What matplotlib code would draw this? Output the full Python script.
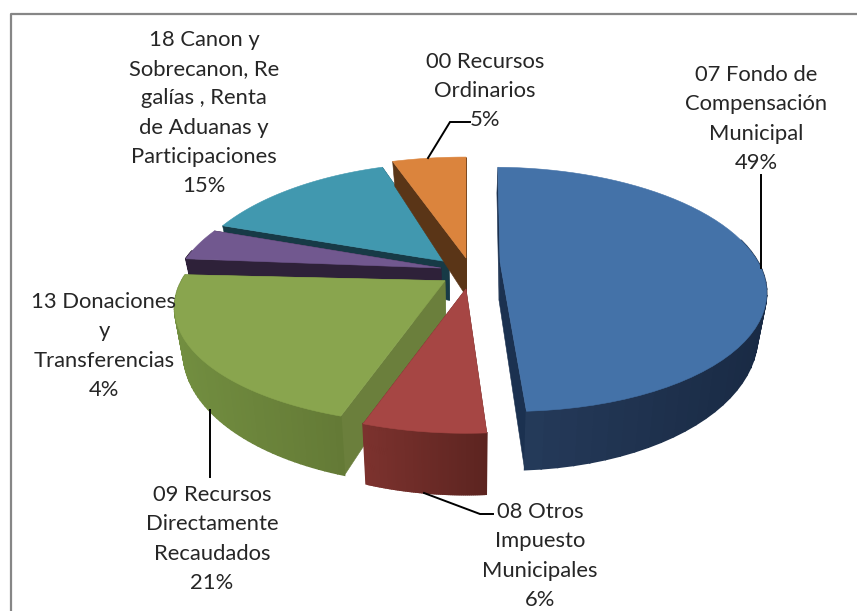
import numpy as np
import matplotlib
matplotlib.use("Agg")
import matplotlib.pyplot as plt
from matplotlib.patches import Polygon

# ---------- data ----------
categories = ["07 Fondo de\nCompensación\nMunicipal",
              "08 Otros\nImpuesto\nMunicipales",
              "09 Recursos\nDirectamente\nRecaudados",
              "13 Donaciones\ny\nTransferencias",
              "18 Canon y\nSobrecanon, Re\ngalías , Renta\nde Aduanas y\nParticipaciones",
              "00 Recursos\nOrdinarios"]
values = [48.9, 6.2, 21.0, 4.2, 14.5, 5.2]
percent_labels = ["49%", "6%", "21%", "4%", "15%", "5%"]

# ---------- style ----------
top_colors = ["#4472A8", "#A64644", "#89A54E", "#71588F", "#4198AF", "#DB843D"]
wall_left = [(38, 60, 92), (124, 50, 46), (114, 142, 64), (46, 33, 57), (23, 58, 70), (90, 53, 23)]
wall_right = [(25, 42, 68), (92, 36, 32), (100, 122, 54), (46, 33, 57), (23, 58, 70), (90, 53, 23)]
side_colors = ["#1B3150", "#5E2420", "#6B7F3C", "#2E2139", "#173A46", "#5A3517"]
explode_uv = [(0.132, 0.0), (0.0, 0.2195), (-0.0786, 0.1558), (-0.0958, 0.0515), (-0.066, 0.0), (0.0, -0.0347)]
radius_u = [1.0, 0.95, 0.985, 1.0, 1.0, 1.1]
radius_v = [1.0, 0.89, 0.91, 1.0, 1.06, 1.1]
angle_shift = [1.1, 0.3, -0.9, 0.6, -0.6, 0.0]
paint_order = [4, 3, 2, 5, 1, 0]
label_pos = [(756, 119), (540, 556), (212, 539), (104, 346), (204, 113), (485, 91)]

X0, Y0, RX, RY, PERSP = 466.0, 262.0, 258.0, 116.0, 0.224
WIDTH, HEIGHT, DPI = 857, 611, 100


def project(u, v):
    w = 1.0 / (1.0 - PERSP * v)
    return X0 + RX * u * w, Y0 + RY * v * w


def drop(x, y):
    d = 25.0 + (y - 162.0) * 0.134
    return x + (X0 - x) * 0.03, y + d


fig = plt.figure(figsize=(WIDTH / DPI, HEIGHT / DPI), dpi=DPI)
ax = fig.add_axes([0, 0, 1, 1])
ax.set_xlim(0, WIDTH)
ax.set_ylim(HEIGHT, 0)
ax.axis("off")

# chart frame (only top and left fall inside the picture)
ax.plot([11, 11, WIDTH], [HEIGHT, 14, 14], color="#868686", lw=1.6, solid_capstyle="butt")

fracs = np.array(values) / sum(values) * 360.0
starts = np.concatenate([[0.0], np.cumsum(fracs)[:-1]])


def poly(xs, ys, color, lw=0.4):
    ax.add_patch(Polygon(np.column_stack([xs, ys]), closed=True, facecolor=color,
                         edgecolor=color, lw=lw))


for i in paint_order:
    t = np.radians(np.linspace(starts[i], starts[i] + fracs[i], 60) + angle_shift[i])
    eu, ev = explode_uv[i]
    ax_, ay_ = project(eu, ev)
    x, y = project(eu + radius_u[i] * np.sin(t), ev - radius_v[i] * np.cos(t))
    bx, by = drop(x, y)
    abx, aby = drop(ax_, ay_)
    # radial side walls
    poly([ax_, x[0], bx[0], abx], [ay_, y[0], by[0], aby], side_colors[i])
    poly([ax_, x[-1], bx[-1], abx], [ay_, y[-1], by[-1], aby], side_colors[i])
    # outer wall (front-facing part only), shaded in narrow strips
    span = max(x.max() - x.min(), 1.0)
    for k in range(len(t) - 1):
        if -np.cos(t[k]) < -0.15 and -np.cos(t[k + 1]) < -0.15:
            continue
        f = ((x[k] + x[k + 1]) / 2 - x.min()) / span
        c = tuple((wall_left[i][n] * (1 - f) + wall_right[i][n] * f) / 255 for n in range(3))
        poly([x[k], x[k + 1], bx[k + 1], bx[k]], [y[k], y[k + 1], by[k + 1], by[k]], c, lw=1.2)
    # top face
    poly(np.r_[ax_, x], np.r_[ay_, y], top_colors[i])

# leader lines
leaders = [([761, 761], [175, 268]),
           ([470, 450, 428], [122, 122, 158]),
           ([424, 480, 493], [493, 514, 514]),
           ([210, 210], [410, 477])]
for lx, ly in leaders:
    ax.plot(lx, ly, color="black", lw=1.4, solid_joinstyle="miter")

# labels
for cat, pct, (lx, ly) in zip(categories, percent_labels, label_pos):
    ax.text(lx, ly, f"{cat}\n{pct}", ha="center", va="center", family="Lato",
            fontsize=15.8, color="#262626", linespacing=1.57)

fig.savefig("out.png", dpi=DPI)
